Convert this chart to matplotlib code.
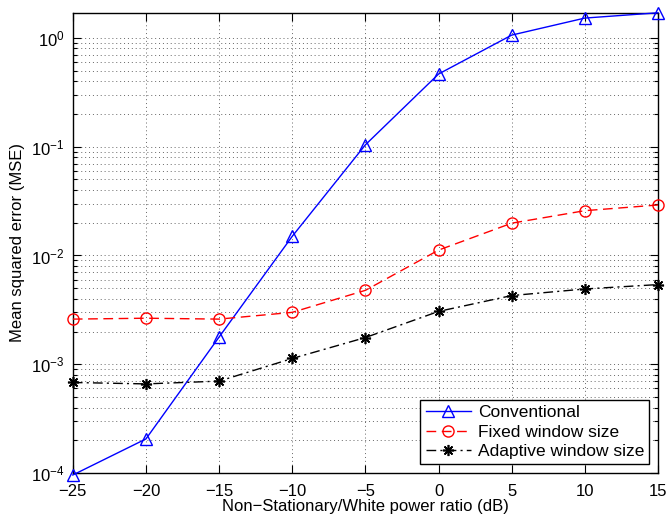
import matplotlib
matplotlib.use("Agg")
import matplotlib.pyplot as plt
from matplotlib.ticker import LogLocator, NullFormatter, FixedLocator

plt.rcParams['font.family'] = ['Liberation Sans', 'DejaVu Sans']

x = [-25, -20, -15, -10, -5, 0, 5, 10, 15]
conventional = [9.6e-5, 2.06e-4, 1.78e-3, 1.5e-2, 0.104, 0.465, 1.06, 1.52, 1.70]
fixed = [2.6e-3, 2.65e-3, 2.6e-3, 3.0e-3, 4.78e-3, 1.12e-2, 1.98e-2, 2.58e-2, 2.91e-2]
adaptive = [6.8e-4, 6.6e-4, 7.0e-4, 1.13e-3, 1.76e-3, 3.06e-3, 4.28e-3, 4.92e-3, 5.4e-3]
xticks = [-25, -20, -15, -10, -5, 0, 5, 10, 15]

fig = plt.figure(figsize=(6.68, 5.21), dpi=100)
ax = fig.add_axes([0.109, 0.092, 0.876, 0.884])

ax.semilogy(x, conventional, color='blue', linestyle='-', linewidth=1.0,
            marker='^', markersize=8, markerfacecolor='none', markeredgecolor='blue',
            label='Conventional', clip_on=False, zorder=3)
ax.semilogy(x, fixed, color='red', linestyle=(0, (7, 4)), linewidth=1.0,
            marker='o', markersize=8, markerfacecolor='none', markeredgecolor='red',
            label='Fixed window size', clip_on=False, zorder=3)
ax.semilogy(x, adaptive, color='black', linestyle=(0, (7, 3, 1.5, 3)), linewidth=1.0,
            marker=(8, 2, 0), markersize=8, markeredgewidth=1.2,
            markerfacecolor='black', markeredgecolor='black',
            label='Adaptive window size', clip_on=False, zorder=3)

ax.set_xlim(-25, 15)
ax.set_ylim(1e-4, 1.71)
ax.xaxis.set_major_locator(FixedLocator(xticks))
ax.set_xticklabels([str(t).replace('-', '\u2212') for t in xticks])
ax.yaxis.set_major_locator(LogLocator(base=10, numticks=10))
ax.yaxis.set_minor_locator(LogLocator(base=10, subs=range(2, 10), numticks=20))
ax.yaxis.set_minor_formatter(NullFormatter())

ax.grid(True, which='major', axis='both', linestyle=(0, (1, 3)), color='#666666', linewidth=0.7)
ax.grid(True, which='minor', axis='y', linestyle=(0, (1, 3)), color='#666666', linewidth=0.7)

ax.tick_params(which='both', direction='in', top=True, right=True, labelsize=12)
ax.tick_params(axis='x', which='major', pad=8)
ax.tick_params(axis='y', which='major', pad=6)
ax.tick_params(which='major', length=6, width=0.8)
ax.tick_params(which='minor', length=3, width=0.8)
for s in ax.spines.values():
    s.set_linewidth(1.0)

ax.set_xlabel('Non\u2212Stationary/White power ratio (dB)', fontsize=12, labelpad=0)
ax.set_ylabel('Mean squared error (MSE)', fontsize=12, labelpad=4)

leg = ax.legend(loc='lower right', fontsize=12.5, fancybox=False, framealpha=1,
                edgecolor='black', borderpad=0.3, labelspacing=0.25,
                handlelength=2.6, handletextpad=0.4, borderaxespad=0.5)
leg.get_frame().set_linewidth(1.0)

fig.savefig('out.png', dpi=100)
